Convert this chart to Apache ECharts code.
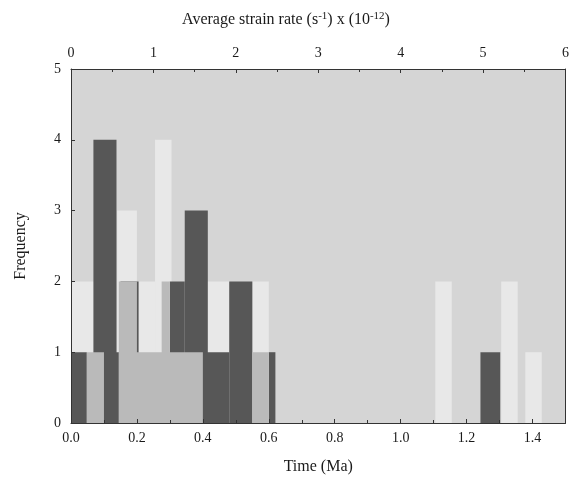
<!DOCTYPE html>
<html>
<head>
<meta charset="utf-8">
<script src="https://cdn.jsdelivr.net/npm/echarts@6/dist/echarts.min.js"></script>
<style>
html,body{margin:0;padding:0;background:#fff;}
#chart{width:572px;height:484px;}
</style>
</head>
<body>
<div id="chart"></div>
<script>
// Light bars (drawn first)
const lightStart = [0.00, 0.14, 0.205, 0.255, 0.40, 0.55, 1.105, 1.305, 1.378];
const lightEnd   = [0.07, 0.20, 0.255, 0.305, 0.48, 0.60, 1.155, 1.355, 1.428];
const lightFreq  = [2, 3, 2, 4, 2, 2, 2, 2, 1];
// Dark bars
const darkStart = [0.00, 0.068, 0.10, 0.15, 0.30, 0.345, 0.40, 0.48, 0.60, 1.242];
const darkEnd   = [0.048, 0.138, 0.15, 0.205, 0.345, 0.415, 0.48, 0.55, 0.62, 1.302];
const darkFreq  = [1, 4, 1, 2, 2, 3, 1, 2, 1, 1];
// Medium bars (drawn last)
const medStart = [0.048, 0.145, 0.145, 0.275, 0.55];
const medEnd   = [0.10, 0.20, 0.40, 0.30, 0.60];
const medFreq  = [1, 2, 1, 2, 1];

const timeMax = 1.5;
const strainMax = 6;
const freqMax = 5;

function toData(s, e, f) { return s.map((v, i) => [v, e[i], f[i]]); }

function rectRenderer(color) {
  return function (params, api) {
    const p0 = api.coord([api.value(0), api.value(2)]);
    const p1 = api.coord([api.value(1), 0]);
    return {
      type: 'rect',
      shape: { x: p0[0], y: p0[1], width: p1[0] - p0[0], height: p1[1] - p0[1] },
      style: { fill: color }
    };
  };
}

const font = 'Liberation Serif';
const lineCol = '#333';
const chart = echarts.init(document.getElementById('chart'));
chart.setOption({
  animation: false,
  title: {
    text: 'Average strain rate (s{sup|-1}) x (10{sup|-12})',
    left: 'center',
    top: 6,
    textStyle: {
      fontFamily: font, fontSize: 16, fontWeight: 'normal', color: '#1a1a1a', lineHeight: 18,
      rich: { sup: { fontFamily: font, fontSize: 11, lineHeight: 8, verticalAlign: 'top', color: '#1a1a1a' } }
    }
  },
  grid: {
    left: 71, right: 4, top: 69, bottom: 61,
    show: true, backgroundColor: '#d5d5d5', borderWidth: 0
  },
  xAxis: [
    {
      type: 'value', min: 0, max: timeMax, interval: 0.2, position: 'bottom', z: 10,
      name: 'Time (Ma)', nameLocation: 'middle', nameGap: 36,
      nameTextStyle: { fontFamily: font, fontSize: 16, color: '#1a1a1a' },
      axisLine: { show: true, onZero: false, lineStyle: { color: lineCol } },
      axisTick: { show: true, inside: true, length: 4, lineStyle: { color: lineCol } },
      minorTick: { show: true, splitNumber: 2, length: 3, lineStyle: { color: lineCol } },
      axisLabel: { fontFamily: font, fontSize: 14, color: '#1a1a1a', margin: 8, showMaxLabel: false,
        formatter: v => v.toFixed(1) },
      splitLine: { show: false }
    },
    {
      type: 'value', min: 0, max: strainMax, interval: 1, position: 'top', z: 10,
      axisLine: { show: true, onZero: false, lineStyle: { color: lineCol } },
      axisTick: { show: true, inside: true, length: 4, lineStyle: { color: lineCol } },
      minorTick: { show: true, splitNumber: 2, length: 3, lineStyle: { color: lineCol } },
      axisLabel: { fontFamily: font, fontSize: 14, color: '#1a1a1a', margin: 9 },
      splitLine: { show: false }
    }
  ],
  yAxis: [
    {
      type: 'value', min: 0, max: freqMax, interval: 1, position: 'left', z: 10,
      name: 'Frequency', nameLocation: 'middle', nameGap: 42,
      nameTextStyle: { fontFamily: font, fontSize: 16, color: '#1a1a1a' },
      axisLine: { show: true, onZero: false, lineStyle: { color: lineCol } },
      axisTick: { show: true, inside: true, length: 4, lineStyle: { color: lineCol } },
      axisLabel: { fontFamily: font, fontSize: 14, color: '#1a1a1a', margin: 10 },
      splitLine: { show: false }
    },
    {
      type: 'value', min: 0, max: freqMax, interval: 1, position: 'right', z: 10,
      axisLine: { show: true, onZero: false, lineStyle: { color: lineCol } },
      axisTick: { show: false },
      axisLabel: { show: false },
      splitLine: { show: false }
    }
  ],
  series: [
    { type: 'custom', xAxisIndex: 0, yAxisIndex: 0, renderItem: rectRenderer('#e8e8e8'), data: toData(lightStart, lightEnd, lightFreq), encode: { x: [0, 1], y: 2 } },
    { type: 'custom', xAxisIndex: 0, yAxisIndex: 0, renderItem: rectRenderer('#575757'), data: toData(darkStart, darkEnd, darkFreq), encode: { x: [0, 1], y: 2 } },
    { type: 'custom', xAxisIndex: 0, yAxisIndex: 0, renderItem: rectRenderer('#bababa'), data: toData(medStart, medEnd, medFreq), encode: { x: [0, 1], y: 2 } }
  ]
});
</script>
</body>
</html>
